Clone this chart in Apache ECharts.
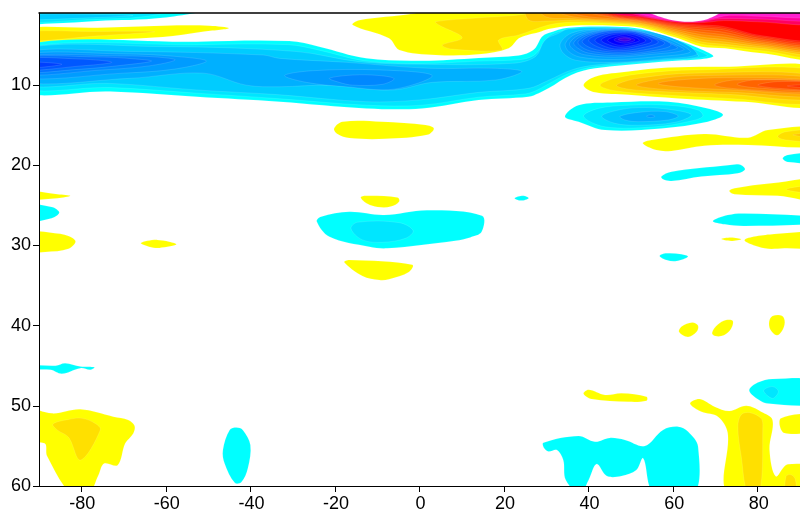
<!DOCTYPE html>
<html><head><meta charset="utf-8">
<style>html,body{margin:0;padding:0;background:#fff;overflow:hidden}#c{width:800px;height:513px}</style>
<script src="https://cdn.jsdelivr.net/npm/echarts@6/dist/echarts.min.js"></script>
</head><body><div id="c"></div>
<script>
const xTicks=[-80,-60,-40,-20,0,20,40,60,80];
const yTicks=[10,20,30,40,50,60];
// contour level colours
const cold=['#00ffff','#00e6ff','#00ccff','#00b0ff','#009cff','#0088ff','#0072ff','#0058ff','#0040ff'];
const eyeCol=['#00b4ff','#00a4ff','#0094ff','#0084ff','#0074ff','#0060ff','#004cff','#0034ff','#0018ff','#0000ff','#2000f0','#4000e0'];
const warm=['#ffff00','#ffe000','#ffc400','#ffac00','#ff9400','#ff7c00','#ff6400','#ff4c00','#ff3400','#ff1c00','#ff0000','#ff0060','#ff00a0','#ff20d0','#ffffff'];
// rings: [lon, level]
const stripA0=[[-90,1],[-48,1],[-60.7,1.6],[-76.2,2.0],[-87,2.3],[-90,2.2]];
const stripA1=[[-90,1],[-56,1],[-65,1.45],[-78,1.8],[-90,2.0]];
const stripA2=[[-90,1.2],[-68,1.3],[-78,1.6],[-90,1.8]];
const leftY0=[[-90,3.0],[-76.2,2.83],[-60.7,2.58],[-49.6,2.58],[-45.1,2.9],[-51.3,3.33],[-60.7,4.0],[-76.2,4.37],[-90,4.74]];
const leftY1=[[-90,3.4],[-76,3.3],[-62.6,3.33],[-76,3.85],[-90,4.5]];
const band0=[[-90,5.2],[-52.7,4.58],[-30.8,4.5],[-23.7,5.2],[-12.6,6.65],[0.6,6.95],[14,6.6],[23.4,6.3],[26,5.9],[27.5,5.3],[28.9,4.0],[30.5,3.5],[35.2,2.83],[46.3,2.7],[52.4,3.0],[59.5,4.16],[65.2,5.2],[69.4,6.45],[57.2,7.07],[41.6,7.9],[35.9,8.73],[30.5,10.4],[28.2,11],[25.8,11.44],[14,11.85],[0.6,12.9],[-12.6,12.9],[-33.1,12.06],[-52.7,11.44],[-73.2,10.8],[-90,10.7]];
const band1=[[-90,5.5],[-52,4.95],[-31,4.95],[-24,5.6],[-12.6,7.0],[0.6,7.3],[14,7.0],[24,6.8],[27,6.3],[28.7,5.3],[30,4.2],[32,3.5],[36,3.0],[46,2.85],[52,3.15],[59,4.3],[64.5,5.4],[68,6.4],[57,6.95],[41.5,7.7],[35.5,8.5],[30,10],[27.5,10.7],[25,11.1],[14,11.5],[0.6,12.5],[-12.6,12.5],[-33,11.7],[-52.7,11.0],[-73,10.3],[-90,10.2]];
const band2=[[-90,5.6],[-60.6,5.2],[-29.2,5.8],[-14.3,7.07],[0.67,7.4],[21.9,7.28],[27.4,6.45],[29.7,4.37],[32.9,3.54],[35.2,3.0],[46.2,2.83],[52.5,3.25],[58.8,4.4],[64.3,5.6],[65.9,6.45],[57.2,6.86],[41.5,7.5],[36,8.1],[30.5,9.4],[25.8,10.4],[14,10.9],[-0.1,11.85],[-12.7,12.06],[-33.1,11.2],[-52.7,10.6],[-73.2,9.78],[-90,9.78]];
const band3=[[-90,6.03],[-68.5,5.8],[-37,6.24],[-33.1,6.66],[-17.4,7.15],[2.2,7.9],[18,7.9],[24.2,8.3],[18,9.36],[3,9.65],[-6.4,10.6],[-21.3,10],[-33.1,10.2],[-41,10],[-51.2,8.5],[-68.5,9.15],[-90,9.5]];
const band4L=[[-90,6.3],[-70,6.1],[-58,6.4],[-50.4,7],[-58,8],[-70,8.5],[-90,9.0]];
const band4C=[[-31.9,8.8],[-25.3,8.2],[-9.5,8.1],[3,8.8],[-6,10.5],[-17.4,10.2],[-26.8,9.65]];
const band5L=[[-90,6.5],[-70,6.35],[-62,6.5],[-57.8,6.86],[-64,7.6],[-75,8.1],[-90,8.6]];
const band5C=[[-21.3,9.15],[-15.8,8.74],[-9.5,8.8],[-6,9.2],[-8.8,9.9],[-15.8,10],[-19,9.65]];
const band6L=[[-90,6.6],[-75,6.5],[-68,6.7],[-63.4,7],[-70,7.5],[-80,8],[-90,8.3]];
const band7L=[[-90,6.75],[-80,6.75],[-72.8,7.15],[-80,7.6],[-90,8.1]];
const band8L=[[-90,7.15],[-84.6,7.4],[-90,7.9]];
const eye1=[[33.3,4.8],[36,3.5],[42,3.0],[50,3.0],[58,3.8],[64,5.2],[65.5,6.2],[58,6.7],[46,7.15],[37,6.9],[34,6]];
const eye2=[[34.5,4.8],[37,3.6],[43,3.05],[50,3.05],[57,3.9],[62,5],[64,5.9],[56,6.45],[46,6.8],[38,6.5],[35.3,5.8]];
const eye3=[[35.5,4.8],[38,3.7],[44,3.1],[50,3.1],[56,3.9],[60,4.8],[62.5,5.6],[55,6.15],[46,6.5],[39,6.2],[36.5,5.6]];
const eye4=[[36.5,4.7],[39,3.7],[44,3.15],[50,3.15],[55,3.8],[59,4.7],[61,5.4],[54,6],[47,6.3],[40,6],[37.5,5.4]];
const eye5=[[37.5,4.6],[40,3.7],[45,3.2],[50,3.2],[55,3.8],[59.5,5],[54,5.8],[47,6.1],[41,5.8],[38.5,5.3]];
const eye6=[[38.5,4.5],[41,3.7],[45,3.25],[50,3.25],[54,3.8],[58,4.8],[53,5.6],[47,5.9],[42,5.6],[39.5,5.1]];
const eye7=[[40,4.4],[43,3.6],[47,3.35],[51,3.4],[56.5,4.6],[52,5.4],[47,5.7],[43,5.4]];
const eye8=[[41.5,4.4],[44,3.7],[47,3.45],[51,3.55],[55,4.5],[51,5.2],[47,5.5],[44,5.2]];
const eye9=[[43,4.4],[45,3.8],[48,3.6],[51,3.75],[53.5,4.45],[51,5],[47.5,5.25],[45,5]];
const eye10=[[44.5,4.4],[47,3.85],[49,3.75],[52,4.4],[49.5,4.85],[47,5]];
const eye11=[[46,4.35],[48,3.95],[51,4.35],[48.5,4.75]];
const eye12=[[47,4.3],[48.5,4.1],[50,4.3],[48.5,4.5]];
const top0=[[-15.8,2.5],[-14.3,1.9],[-1.7,1.1],[5,1],[90,1],[90,6.45],[81,6.03],[72.2,5.4],[66.7,5.2],[61.2,4.16],[52.5,2.83],[46.2,2.58],[36,2.58],[30.5,3.0],[28.2,3.4],[25.8,3.7],[23.5,4.16],[21.1,5.4],[14,6.16],[3.8,6.24],[-4.8,5.6],[-7.2,4.16]];
const top1=[[3.8,2.08],[14,1.6],[25.4,1.1],[27,1],[90,1],[90,6.2],[81,5.7],[72.2,5.2],[66.7,4.9],[61.2,3.95],[52.5,2.65],[46.2,2.35],[36,2.16],[30.5,2.5],[23.5,3.74],[18.7,4.37],[19.5,5.6],[7.7,5.5],[5.4,5],[10.1,4.08],[4.6,2.5]];
const top2=[[25.4,1],[90,1],[90,5.85],[81,5.4],[72.2,4.9],[66.7,4.6],[61.2,3.7],[52.5,2.5],[46.2,2.2],[36,1.9],[30.5,2.0],[25.8,1.87]];
const top3=[[28,1],[90,1],[90,5.6],[81,5.2],[72,4.6],[66.7,4.3],[61,3.5],[52.5,2.35],[46,2.05],[36,1.7],[30,1.5]];
const top4=[[31,1],[90,1],[90,5.4],[81,5.0],[72,4.3],[66.7,4.0],[61,3.3],[52.5,2.25],[46,1.9],[36,1.45]];
const top5=[[33,1],[90,1],[90,5.15],[81,4.8],[72,4.0],[66.7,3.7],[61,3.1],[52.5,2.1],[46,1.75],[38,1.3]];
const top6=[[36,1],[90,1],[90,4.95],[81,4.6],[72,3.7],[66.7,3.4],[61,2.9],[52.5,2.0],[46,1.6]];
const top7=[[38,1],[90,1],[90,4.75],[81,4.4],[72,3.4],[66.7,3.1],[61,2.75],[52.5,1.9],[46,1.5]];
const top8=[[40,1],[90,1],[90,4.55],[81,4.2],[72,3.1],[66.7,2.85],[61,2.6],[52.5,1.8],[46,1.4]];
const top9=[[41,1],[90,1],[90,4.35],[81,4.0],[72,2.9],[66.7,2.65],[61,2.45],[52.5,1.7],[46,1.3]];
const top10=[[42,1],[90,1],[90,4.15],[81,3.85],[72,2.7],[67,2.5],[61,2.3],[52.5,1.6],[46,1.2]];
const top11=[[44,1],[90,1],[90,2.3],[80,2.1],[72,1.95],[67,2.2],[61,2.15],[52.5,1.5],[46,1.1]];
const top12=[[46,1],[90,1],[90,1.85],[80,1.75],[71,1.7],[67,2.05],[61,2.05],[52.5,1.35]];
const top13=[[48,1],[90,1],[90,1.5],[80,1.4],[73,1.3],[71,1.5],[67,1.95],[61,1.95],[52.5,1.2]];
const hole=[[52.5,1],[72.2,1],[67.4,1.87],[59.6,1.87]];
const blob0=[[38.8,10],[41.5,8.94],[49.4,8.3],[58.8,7.8],[73,7.7],[90,7.9],[90,12.5],[76.9,12.06],[61.2,11.65],[49.4,11.2],[41.5,10.9]];
const blob1=[[42.7,10],[46.2,9.15],[53.3,8.5],[65,8.1],[90,8.3],[90,12.06],[73,11.65],[57.2,11.2],[46.2,10.7]];
const blob2=[[46.6,10],[51.7,9.15],[65,8.5],[90,8.9],[90,11.65],[73,11.15],[57.2,10.8],[49.4,10.5]];
const blob3=[[51.3,10],[57.2,9.2],[66.7,8.8],[90,9.2],[90,11.3],[74.5,10.9],[59.6,10.6]];
const blob4=[[56.4,9.8],[61.2,9.36],[73,9.07],[90,9.57],[90,11.0],[74.5,10.6],[61.2,10.2]];
const blob5=[[69.8,10],[74.5,9.36],[90,9.65],[90,10.8],[76.1,10.5]];
const blob6=[[75.1,9.9],[79.2,9.36],[90,9.75],[90,10.65],[80,10.35]];
const blob7=[[80,10],[84.7,9.56],[90,9.8],[90,10.55],[85,10.4]];
const blob8=[[87,10.1],[90,9.95],[90,10.4]];
const low0=[[34.4,13.9],[37.6,12.5],[45.4,12.15],[58.8,12.06],[68.2,12.9],[71.8,13.7],[68.2,14.56],[57.2,15.4],[43.9,15.6],[37.6,14.56]];
const low1=[[38.8,13.9],[42.3,12.9],[49.4,12.5],[58.8,12.5],[65.9,13.1],[67,13.9],[63.5,14.56],[55.7,15.2],[43.9,15.2]];
const low2=[[43.1,13.9],[46.2,13.2],[51.7,12.8],[58.8,13],[64.3,13.7],[60.4,14.64],[51.7,15],[46.2,14.76]];
const low3=[[47.4,13.9],[51.7,13.4],[58,13.3],[61.2,13.85],[58.8,14.35],[51.7,14.55],[48.6,14.35]];
const low4=[[53.7,13.85],[54.9,13.7],[55.7,13.9],[54.5,14.05]];
const patchY1=[[-20.2,15.4],[-18.2,14.55],[-8.8,14.55],[1.45,14.97],[3.4,15.4],[1.85,16.2],[-8,16.7],[-16.6,16.6],[-19.4,16.1]];
const patchY2=[[-13.9,24],[-12.7,23.8],[-5.2,24],[-4.8,24.5],[-6.8,25.15],[-9.9,25.2],[-12.3,24.8]];
const midC0=[[-24.3,27],[-23.3,26.4],[-16.6,25.8],[-8.4,26.2],[1.85,25.6],[14.8,26.3],[14.7,28.3],[12,29],[8.5,29.4],[-7.6,30.35],[-11.9,30.15],[-21.3,28.9]];
const midC1=[[-16.2,27.9],[-14.7,27.1],[-4.8,27.15],[-1.5,28.15],[-3.3,29.1],[-8.8,29.6],[-13.5,29.3]];
const patchY3=[[-17.8,32.1],[-16.6,31.8],[-1.7,32.4],[-2.5,33.3],[-7.2,34.2],[-9.5,34.3],[-13.5,33.8]];
const edgeY1=[[-90,23.1],[-85.6,23.6],[-82.6,23.8],[-85.6,24.1],[-90,24.2]];
const edgeC1=[[-90,24.9],[-87,25.2],[-85.2,25.9],[-87,26.6],[-90,27.1]];
const edgeY2=[[-90,28.45],[-85,28.55],[-81.4,29.4],[-83,30.4],[-88.5,30.8],[-90,30.8]];
const patchY4=[[-65.9,29.7],[-62,29.3],[-57.5,29.85],[-61.5,30.3],[-64,30.15]];
const tinyC=[[22.5,24.1],[24.5,23.8],[25.8,24.1],[24,24.4]];
const rightY1=[[52.8,17.26],[54.9,16.84],[67.4,16.09],[77.7,16.55],[82.4,15.6],[90,15.4],[90,17.55],[77.7,17.46],[67.4,17.55],[59.6,18.2],[56,18.1]];
const rightY1a=[[84.7,16.4],[86.7,15.8],[90,15.7],[90,16.97],[86.7,16.84]];
const rightY1b=[[88.3,16.2],[90,16],[90,16.55]];
const rightC1=[[85.9,19.13],[87.1,18.7],[90,18.5],[90,19.6],[87.1,19.6]];
const rightC2=[[57.2,21.4],[59.6,20.8],[72.9,20],[75.7,19.9],[77,20.5],[75.3,21],[66.7,21.4],[59.6,21.96],[57.6,21.75]];
const rightY2=[[73.3,23.2],[74.5,22.87],[83.2,22.25],[90,21.83],[90,24.3],[84.7,23.8],[74.5,23.6]];
const rightY2a=[[86.7,23],[90,22.5],[90,23.5]];
const rightC3=[[69.4,26.95],[72.9,26.2],[76.9,26],[90,26.5],[90,27.2],[76.9,27.57],[72.2,27.36]];
const rightY3=[[71.4,29.2],[73.7,29],[76.1,29.23],[73.7,29.44]];
const rightY4=[[76.9,29.3],[83.9,28.57],[90,28.5],[90,30.15],[86.3,30.35],[81.6,30.35]];
const rightC4=[[56.8,31.3],[58.4,30.98],[62,31.1],[63.5,31.4],[60.8,31.93],[58.4,31.8]];
const spotY1=[[61.4,40.8],[62,40.1],[64.5,39.6],[65.9,40],[65.5,40.8],[63.5,41.4]];
const spotY2=[[69.2,40.9],[70.5,39.9],[72.5,39.3],[74.1,39.4],[73.7,40.4],[72,41.2],[70,41.3]];
const spotY3=[[82.7,39.5],[83.5,38.8],[85.8,38.8],[86.4,39.6],[85.7,40.7],[84.5,41.2],[83,40.5]];
const streakY=[[38.8,48.5],[40,48],[43.9,48.65],[47.8,48.44],[53.7,48.86],[53.7,49.36],[49.4,49.5],[40.7,49.15]];
const cornerC0=[[78,48],[80,47.1],[83.5,46.65],[90,47],[90,49.6],[82.4,49.7],[79.2,48.86]];
const cornerC1=[[81.4,48.1],[83.5,47.6],[84.9,48.2],[83.5,49.07]];
const bigY0=[[64,49.7],[66.3,49.15],[69.8,50.1],[73.3,50.65],[77.3,50],[80.8,50.73],[83.5,51.77],[82.8,55.5],[84.3,58.8],[87.1,57.3],[90,58],[90,60],[73.2,60],[72.9,53.4],[70.6,51.35],[66.7,50.73]];
const bigY1=[[75.3,52.6],[76.1,51.1],[78.1,50.85],[80.8,51.56],[81.2,52.6],[80.4,60],[77.7,60],[76.1,56.3]];
const bigY2=[[86.7,60],[86.7,58.8],[87.9,58.6],[88.9,59.2],[88.9,60]];
const sideY=[[85.5,51.56],[90,51.14],[90,52.8],[86.3,53.4]];
const lowC=[[29.3,54.6],[37.6,53.76],[41.5,54.47],[45,54],[48.6,54.26],[53.3,55],[57.6,53],[61.2,52.6],[63.5,53.2],[65.9,55.1],[64.9,60],[55.5,60],[52.9,56.55],[51.3,58],[47.8,58.75],[44.3,58.75],[41.9,57.26],[40,59.25],[38,60],[34.6,59.25],[34,56.76],[32.5,55.5],[30.5,55.7],[29.5,55.3]];
const leftStreak=[[-90,44.9],[-86.1,45],[-83.8,44.7],[-80.2,45.1],[-76.9,45.2],[-77.9,45.5],[-80.2,45.3],[-84.6,46],[-87.3,45.5],[-90,45.45]];
const swY0=[[-90,50.1],[-86.9,50.94],[-80.2,50.44],[-72.4,51.36],[-68.9,51.77],[-67.4,52.5],[-67.7,53.44],[-69.6,54.68],[-71.4,57.4],[-74.6,57.2],[-75.9,58.6],[-78.3,60],[-82.4,60],[-88.1,56.26],[-88.7,54.68],[-90,54.5]];
const swY1=[[-86.7,52.27],[-83,51.7],[-79.8,51.56],[-76.7,52.2],[-75.5,53],[-80.2,56.76],[-83,53.93],[-85.7,53]];
const drop=[[-46.5,55.5],[-44.9,53],[-43.3,52.7],[-41.8,53],[-40,54.9],[-40.6,57.8],[-42.1,59.5],[-43.7,59.6],[-46.1,57.2]];

const layers=[
 [warm,0,top0],[warm,1,top1],[warm,2,top2],[warm,3,top3],[warm,4,top4],[warm,5,top5],[warm,6,top6],[warm,7,top7],[warm,8,top8],[warm,9,top9],[warm,10,top10],[warm,11,top11],[warm,12,top12],[warm,13,top13],[warm,14,hole],
 [cold,0,stripA0],[cold,1,stripA1],[cold,2,stripA2],[warm,0,leftY0],[warm,1,leftY1],
 [cold,0,band0],[cold,1,band1],[cold,2,band2],[cold,3,band3],[cold,4,band4L],[cold,4,band4C],[cold,5,band5L],[cold,5,band5C],[cold,6,band6L],[cold,7,band7L],[cold,8,band8L],
 [eyeCol,0,eye1],[eyeCol,1,eye2],[eyeCol,2,eye3],[eyeCol,3,eye4],[eyeCol,4,eye5],[eyeCol,5,eye6],[eyeCol,6,eye7],[eyeCol,7,eye8],[eyeCol,8,eye9],[eyeCol,9,eye10],[eyeCol,10,eye11],[eyeCol,11,eye12],
 [warm,0,blob0],[warm,1,blob1],[warm,2,blob2],[warm,3,blob3],[warm,4,blob4],[warm,5,blob5],[warm,6,blob6],[warm,7,blob7],[warm,8,blob8],
 [cold,0,low0],[cold,1,low1],[cold,2,low2],[cold,3,low3],[cold,4,low4],
 [warm,0,patchY1],[warm,0,patchY2],[cold,0,midC0],[cold,1,midC1],[warm,0,patchY3],[warm,0,edgeY1],[cold,0,edgeC1],[warm,0,edgeY2],[warm,0,patchY4],[cold,0,tinyC],
 [warm,0,rightY1],[warm,1,rightY1a],[warm,2,rightY1b],[cold,0,rightC1],[cold,0,rightC2],[warm,0,rightY2],[warm,1,rightY2a],[cold,0,rightC3],[warm,0,rightY3],[warm,0,rightY4],[cold,0,rightC4],
 [warm,0,spotY1],[warm,0,spotY2],[warm,0,spotY3],[warm,0,streakY],[cold,0,cornerC0],[cold,1,cornerC1],[warm,0,bigY0],[warm,1,bigY1],[warm,1,bigY2],[warm,0,sideY],[cold,0,lowC],
 [cold,0,leftStreak],[warm,0,swY0],[warm,1,swY1],[cold,0,drop]
];

// edge vertices are pushed past the frame so rounding stays outside the clip
const pushOut=q=>[q[0]>=90?95:q[0]<=-90?-95:q[0], q[1]<=1?0.3:q[1]>=60?61:q[1]];
const font='"Liberation Sans",Arial,sans-serif';
const chart=echarts.init(document.getElementById('c'),null,{renderer:'canvas'});
chart.setOption({
 animation:false,backgroundColor:'#fff',
 grid:{left:39,top:13,width:763,height:473,containLabel:false},
 xAxis:[{type:'value',min:-90,max:90,position:'bottom',z:10,
   axisLine:{show:true,onZero:false,lineStyle:{color:'#000',width:1}},
   axisTick:{show:true,length:6,customValues:xTicks,lineStyle:{color:'#000'}},
   axisLabel:{customValues:xTicks,color:'#000',fontFamily:font,fontSize:18,margin:9,padding:[0,0,0,2]},
   splitLine:{show:false}},
  {type:'value',min:-90,max:90,position:'top',z:10,
   axisLine:{show:true,onZero:false,lineStyle:{color:'#000',width:1.5}},
   axisTick:{show:false},axisLabel:{show:false},splitLine:{show:false}}],
 yAxis:{type:'value',min:1,max:60,inverse:true,position:'left',z:10,
   axisLine:{show:true,onZero:false,lineStyle:{color:'#000',width:1}},
   axisTick:{show:true,length:6,customValues:yTicks,lineStyle:{color:'#000'}},
   axisLabel:{customValues:yTicks,color:'#000',fontFamily:font,fontSize:18,margin:8,padding:[3,0,0,0]},
   splitLine:{show:false}},
 series:[{type:'custom',clip:true,silent:true,coordinateSystem:'cartesian2d',xAxisIndex:0,yAxisIndex:0,
  data:layers.map((l,i)=>[l[2][0][0],l[2][0][1],i]),
  encode:{x:0,y:1},
  renderItem:(p,api)=>{
   const l=layers[api.value(2)];
   return {type:'polygon',shape:{points:l[2].map(q=>api.coord(pushOut(q))),smooth:0.35},
     style:{fill:l[0][l[1]],stroke:'rgba(255,255,255,0.2)',lineWidth:0.6}};
  }}]
});
</script></body></html>
